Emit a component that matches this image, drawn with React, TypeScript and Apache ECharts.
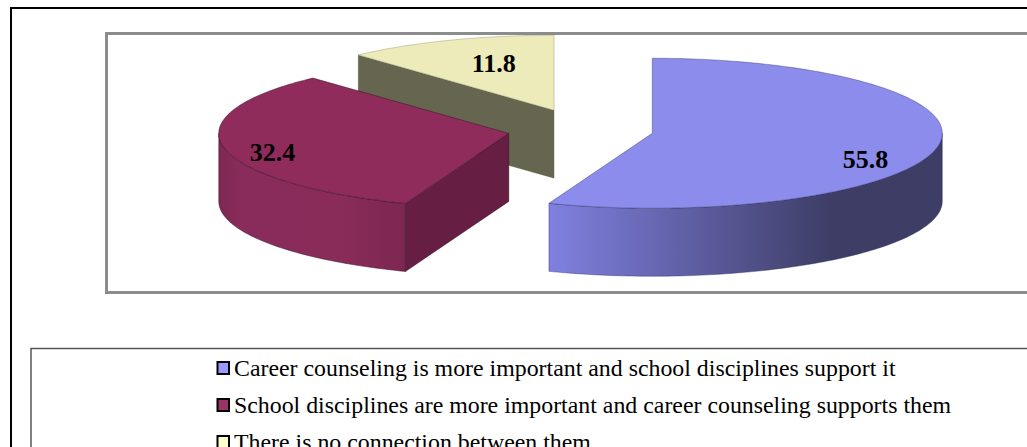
import React, { useEffect, useRef } from "react";
import * as echarts from "echarts";

// Survey answers, as percentages of respondents.
const categories = [
  "Career counseling is more important and school disciplines support it",
  "School disciplines are more important and career counseling supports them",
  "There is no connection between them",
];
const shares = [55.8, 32.4, 11.8];

// Flat colours for the legend swatches.
const swatchColors = ["#9999ff", "#993366", "#ffffcc"];
// Top faces, lit a little differently from the swatches.
const topColors = ["#8c8cec", "#8f2c5c", "#ecebb9"];
// Cut faces, in shadow.
const cutColors = ["#3d3d66", "#661f42", "#666650"];
// Outlines of each slice's faces.
const edgeColors = ["rgba(40,40,90,0.55)", "rgba(50,15,35,0.7)", "rgba(110,110,85,0.45)"];
// Rim shading runs left to right over each slice's visible rim.
const rimStops = [
  [[0, "#8080e0"], [0.72, "#3d3d66"], [1, "#3d3d66"]],
  [[0, "#7e2852"], [0.12, "#8a2c5b"], [0.65, "#8a2c5a"], [1, "#7c2751"]],
  [[0, "#666650"], [1, "#666650"]],
];

// Pie projection in pixels.
const pie = { cx: 580.5, cy: 129.5, rx: 290, ry: 75, depth: 68, explodeX: 73, explodeY: 20.7 };
// Label anchors relative to each slice's apex, in units of the ellipse radii.
const labelOffsets = [
  [0.735, 0.35],
  [-0.815, 0.25],
  [-0.208, -0.62],
];

const TAU = Math.PI * 2;
const total = shares.reduce((a, b) => a + b, 0);

function sliceAngles(index: number) {
  const before = shares.slice(0, index).reduce((a, b) => a + b, 0);
  return [(before / total) * TAU, ((before + shares[index]) / total) * TAU];
}

function renderSlice(index: number) {
  return () => {
    const [start, end] = sliceAngles(index);
    const mid = (start + end) / 2;
    const ax = pie.cx + pie.explodeX * Math.sin(mid);
    const ay = pie.cy - pie.explodeY * Math.cos(mid);
    const rim = (t: number): number[] => [ax + pie.rx * Math.sin(t), ay - pie.ry * Math.cos(t)];
    const down = (p: number[]): number[] => [p[0], p[1] + pie.depth];
    const arc = (from: number, to: number) => {
      const steps = Math.max(2, Math.ceil(Math.abs(to - from) / 0.02));
      const pts: number[][] = [];
      for (let i = 0; i <= steps; i++) pts.push(rim(from + ((to - from) * i) / steps));
      return pts;
    };
    const edge = { stroke: edgeColors[index], lineWidth: 0.7 };
    const children: any[] = [];

    // Radial cut faces that turn towards the viewer.
    const cut = (t: number) => {
      const p = rim(t);
      children.push({
        type: "polygon",
        shape: { points: [[ax, ay], p, down(p), [ax, ay + pie.depth]] },
        style: { fill: cutColors[index], ...edge },
      });
    };
    if (Math.sin(start) < -1e-6) cut(start);
    if (Math.sin(end) > 1e-6) cut(end);

    // Outer wall, only along the front half of the ellipse.
    const wallFrom = Math.max(start, Math.PI / 2);
    const wallTo = Math.min(end, (Math.PI * 3) / 2);
    if (wallTo > wallFrom) {
      const top = arc(wallFrom, wallTo);
      children.push({
        type: "polygon",
        shape: { points: [...top, ...top.map(down).reverse()] },
        style: {
          fill: new echarts.graphic.LinearGradient(
            0,
            0,
            1,
            0,
            rimStops[index].map(([offset, color]) => ({ offset: offset as number, color: color as string })),
          ),
          ...edge,
        },
      });
    }

    // Top face.
    children.push({
      type: "polygon",
      shape: { points: [[ax, ay], ...arc(start, end)] },
      style: { fill: topColors[index], ...edge },
    });

    // Value label.
    children.push({
      type: "text",
      style: {
        x: ax + labelOffsets[index][0] * pie.rx,
        y: ay + labelOffsets[index][1] * pie.ry,
        text: shares[index].toFixed(1),
        fill: "#000",
        font: "bold 26px 'Liberation Serif'",
        align: "center",
        verticalAlign: "middle",
      },
    });
    return { type: "group", children };
  };
}

const frameLine = (x: number, y: number, color: string, lineWidth: number) => ({
  type: "rect",
  z: 0,
  silent: true,
  shape: { x, y, width: 1400, height: 800 },
  style: { fill: "transparent", stroke: color, lineWidth },
});

export default function App() {
  const ref = useRef<HTMLDivElement>(null);
  useEffect(() => {
    if (!ref.current) return;
    const chart = echarts.init(ref.current, undefined, { renderer: "svg" });
    chart.setOption({
      animation: false,
      backgroundColor: "#ffffff",
      graphic: [
        frameLine(11, 8, "#000000", 2),
        {
          type: "rect",
          z: 0,
          silent: true,
          shape: { x: 106.5, y: 33.5, width: 1000, height: 259 },
          style: { fill: "transparent", stroke: "#8c8c8c", lineWidth: 3 },
        },
        frameLine(31, 348.5, "#555555", 1.5),
      ],
      legend: {
        show: true,
        orient: "vertical",
        left: 216.5,
        top: 356,
        height: 130,
        padding: 0,
        itemWidth: 11.5,
        itemHeight: 12,
        itemGap: 13,
        selectedMode: false,
        icon: "rect",
        data: categories.map((name, i) => ({
          name,
          icon: "rect",
          itemStyle: { color: swatchColors[i], borderColor: "#000", borderWidth: 2 },
        })),
        textStyle: {
          fontFamily: "Liberation Serif",
          fontSize: 23.85,
          color: "#000",
          lineHeight: 24,
          padding: 0,
        },
      },
      series: categories.map((name, i) => ({
        type: "custom",
        name,
        coordinateSystem: "none",
        z: 5 - i,
        silent: true,
        itemStyle: { color: swatchColors[i] },
        data: [shares[i]],
        renderItem: renderSlice(i),
      })),
    });
    return () => chart.dispose();
  }, []);
  return (
    <div
      ref={ref}
      style={{ position: "fixed", left: 0, top: 0, width: 1027, height: 447, background: "#fff" }}
    />
  );
}
